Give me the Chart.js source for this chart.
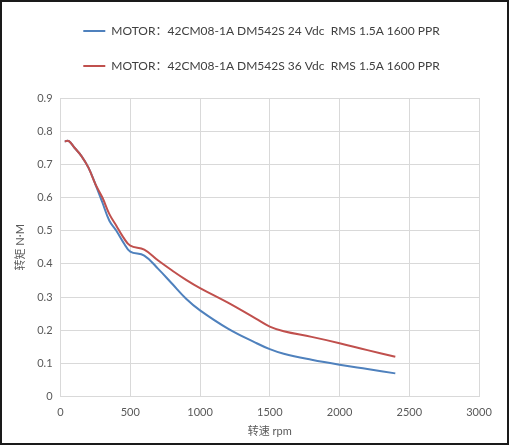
<!DOCTYPE html>
<html>
<head>
<meta charset="utf-8">
<script src="https://cdn.jsdelivr.net/npm/chart.js@4/dist/chart.umd.min.js"></script>
<style>
  html, body { margin: 0; padding: 0; background: #fff; }
  .frame { width: 509px; height: 445px; box-sizing: border-box; border: 2px solid #1a1a1a; background: #fff; }
  .frame canvas { display: block; }
</style>
</head>
<body>
<div class="frame"><canvas id="torque_chart" width="505" height="441"></canvas></div>
<script>
// speed (rpm) and torque (N·M)
var speedRpm  = [30, 60, 100, 150, 200, 250, 300, 350, 400, 450, 500, 600, 700, 800, 900, 1000, 1200, 1400, 1500, 1600, 1800, 2000, 2200, 2400];
var torque24v = [0.77, 0.77, 0.75, 0.725, 0.69, 0.64, 0.585, 0.53, 0.50, 0.465, 0.437, 0.425, 0.385, 0.34, 0.295, 0.26, 0.205, 0.162, 0.143, 0.129, 0.111, 0.096, 0.083, 0.07];
var torque36v = [0.77, 0.77, 0.75, 0.725, 0.69, 0.64, 0.60, 0.55, 0.515, 0.48, 0.455, 0.443, 0.41, 0.38, 0.352, 0.327, 0.283, 0.235, 0.211, 0.197, 0.18, 0.161, 0.14, 0.12];
var seriesLabels = [
  "MOTOR：42CM08-1A DM542S 24 Vdc  RMS 1.5A 1600 PPR",
  "MOTOR：42CM08-1A DM542S 36 Vdc  RMS 1.5A 1600 PPR"
];
var xTicks = [0, 500, 1000, 1500, 2000, 2500, 3000];
var yTicks = [0, 0.1, 0.2, 0.3, 0.4, 0.5, 0.6, 0.7, 0.8, 0.9];

function toPoints(ys) {
  return speedRpm.map(function (x, i) { return { x: x, y: ys[i] }; });
}

var grey = "#595959";
var font = "Lato, 'Noto Sans CJK SC', sans-serif";

var dataLine = {
  datasets: [
    {
      label: seriesLabels[0],
      data: toPoints(torque24v),
      borderColor: "#4F81BD",
      backgroundColor: "#4F81BD",
      borderWidth: 2,
      pointRadius: 0,
      tension: 0.4,
      order: 2
    },
    {
      label: seriesLabels[1],
      data: toPoints(torque36v),
      borderColor: "#C0504D",
      backgroundColor: "#C0504D",
      borderWidth: 2,
      pointRadius: 0,
      tension: 0.4,
      order: 1
    }
  ]
};

var optionsLine = {
  responsive: false,
  animation: false,
  layout: { padding: { left: 8, right: 28, top: 16, bottom: 5 } },
  plugins: {
    tooltip: { enabled: false },
    legend: {
      position: "top",
      labels: {
        usePointStyle: true,
        pointStyle: "line",
        pointStyleWidth: 22,
        color: "#404040",
        font: { family: font, size: 12 },
        padding: 23,
        sort: function (a, b) { return a.datasetIndex - b.datasetIndex; }
      }
    }
  },
  scales: {
    x: {
      type: "linear",
      min: 0,
      max: 3000,
      afterBuildTicks: function (axis) { axis.ticks = xTicks.map(function (v) { return { value: v }; }); },
      ticks: { color: grey, font: { family: font, size: 11 }, padding: 9, callback: function (v) { return String(v); } },
      grid: { color: "#d9d9d9", lineWidth: 1, tickLength: 0 },
      border: { color: "#d9d9d9" },
      title: { display: true, text: "转速 rpm", color: grey, font: { family: font, size: 11 }, padding: { top: -3, bottom: 0 } }
    },
    y: {
      min: 0,
      max: 0.9,
      afterBuildTicks: function (axis) { axis.ticks = yTicks.map(function (v) { return { value: v }; }); },
      ticks: { color: grey, font: { family: font, size: 11 }, padding: 8, callback: function (v) { return v === 0 ? "0" : v.toFixed(1); } },
      grid: { color: "#d9d9d9", lineWidth: 1, tickLength: 0 },
      border: { color: "#d9d9d9" },
      title: { display: true, text: "转矩 N·M", color: grey, font: { family: font, size: 11 }, padding: { bottom: 2 } }
    }
  }
};

// nudge the legend block: right to sit centred over the page, up into the top margin
var legendShift = {
  id: "legendShift",
  afterLayout: function (chart) {
    var lg = chart.legend;
    lg.left += 17; lg.right += 17;
    lg.top -= 16; lg.bottom -= 16;
  }
};

function start() {
  var ctx = document.getElementById("torque_chart").getContext("2d");
  new Chart(ctx, { type: "line", data: dataLine, options: optionsLine, plugins: [legendShift] });
}
start();
</script>
</body>
</html>
